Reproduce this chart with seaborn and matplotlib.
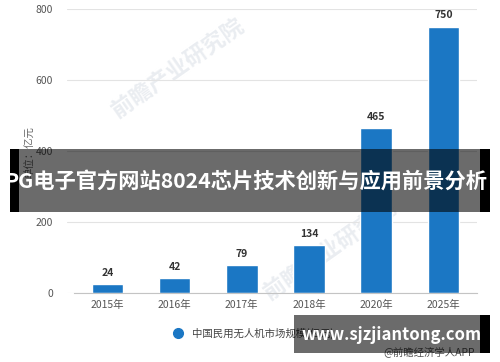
import matplotlib
matplotlib.use("Agg")
import matplotlib.pyplot as plt
import seaborn as sns
import pandas as pd
from matplotlib.patches import Rectangle
from matplotlib.lines import Line2D

years = ["2015年", "2016年", "2017年", "2018年", "2020年", "2025年"]
market_size = [24, 42, 79, 134, 465, 750]
y_ticks = [0, 200, 400, 600, 800]

series_name = "中国民用无人机市场规模(亿元)"
unit_label = "单位：亿元"
source_text = "@前瞻经济学人APP"
banner_title = "PG电子官方网站8024芯片技术创新与应用前景分析"
site_mark = "www.sjzjiantong.com"
bar_color = "#1b77c4"

df = pd.DataFrame({"year": years, "size": market_size})

sns.set_style("white")
plt.rcParams["font.family"] = ["Noto Sans CJK SC", "DejaVu Sans"]

W, H = 500, 362
fig = plt.figure(figsize=(W / 100, H / 100), dpi=100)
ax = fig.add_axes([67 / W, 69 / H, 410 / W, 284 / H])
ax.set_zorder(2)
ax.patch.set_alpha(0)

sns.barplot(data=df, x="year", y="size", color=bar_color, width=0.47,
            saturation=1, ax=ax, zorder=2)

ax.set_xlim(-0.6, 5.5)
ax.set_ylim(0, 800)
ax.set_yticks(y_ticks)
ax.yaxis.grid(True, color="#e3e3e3", linewidth=0.8, zorder=0)
ax.set_xlabel("")
ax.set_ylabel("")
for s in ["top", "right", "left"]:
    ax.spines[s].set_visible(False)
ax.spines["bottom"].set_color("#c4c4c4")
ax.spines["bottom"].set_bounds(-0.5, 5.5)
ax.tick_params(axis="y", length=0, labelsize=7.5, labelcolor="#555555", pad=10)
ax.tick_params(axis="x", length=3, color="#c4c4c4", labelsize=7.5,
               labelcolor="#555555", pad=2)

for i, v in enumerate(market_size):
    ax.text(i, v + 18, str(v), ha="center", va="bottom", fontsize=7.5,
            fontweight="bold", color="#333333")

# faint publisher watermarks (under the bars)
for (cx, cy) in [(178, 68), (330, 250)]:
    fig.text(cx / W, 1 - cy / H, "前瞻产业研究院", rotation=35, fontsize=16,
             fontweight="bold", color="#eaedf1", ha="center", va="center",
             zorder=1)

fig.text(30 / W, 1 - 152 / H, unit_label, rotation=90, fontsize=7.5,
         color="#666666", ha="center", va="center", zorder=3)

handle = Line2D([], [], marker="o", linestyle="none", color=bar_color, markersize=7)
leg = fig.legend([handle], [series_name], loc="center", frameon=False,
                 bbox_to_anchor=(251 / W, 1 - 333 / H), fontsize=7.5,
                 handletextpad=0.3, labelcolor="#444444")
leg.set_zorder(3)

fig.text(475 / W, 1 - 352 / H, source_text, ha="right", va="center",
         fontsize=7.5, color="#555555", zorder=3)

# banner overlays
def box(x0, y0, x1, y1, color, alpha, z):
    fig.add_artist(Rectangle((x0 / W, 1 - y1 / H), (x1 - x0) / W, (y1 - y0) / H,
                             transform=fig.transFigure, facecolor=color,
                             edgecolor="none", alpha=alpha, zorder=z))

box(19, 149, 480, 212, "black", 0.58, 5)
box(10, 149, 19, 212, "black", 1.0, 5)
box(480, 149, 490, 212, "black", 1.0, 5)
fig.text(246 / W, 1 - 181 / H, banner_title, ha="center", va="center",
         fontsize=15.3, fontweight="bold", color="white", zorder=6)

box(294, 315, 480, 353, "black", 0.58, 5)
box(480, 315, 490, 353, "black", 1.0, 5)
fig.text(392 / W, 1 - 335 / H, site_mark, ha="center", va="center",
         fontsize=12, fontweight="bold", color="white", zorder=6)

fig.savefig("out.png", dpi=100)
